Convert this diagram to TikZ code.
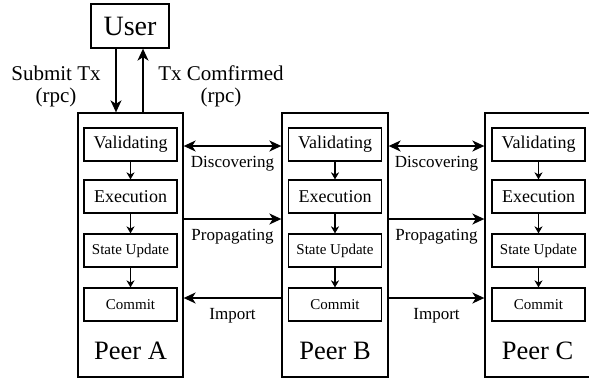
\documentclass[tikz,border=0pt]{standalone}
\usepackage{fontspec}
\setmainfont{Liberation Serif}
\usetikzlibrary{arrows.meta,calc}
\begin{document}
\begin{tikzpicture}[x=1pt,y=-1pt,
  outerbox/.style={draw,line width=1.3pt,minimum width=105pt,minimum height=264pt,inner sep=0pt},
  stagebox/.style={draw,line width=1.2pt,minimum width=93pt,minimum height=33pt,inner sep=0pt},
  bigarrow/.style={line width=1.6pt,-{Stealth[length=12pt,width=11pt,inset=3.5pt]}},
  dblarrow/.style={line width=1.6pt,{Stealth[length=12pt,width=11pt,inset=3.5pt]}-{Stealth[length=12pt,width=11pt,inset=3.5pt]}},
  smallarrow/.style={line width=1.1pt,-{Stealth[length=7pt,width=8pt,inset=2pt]}},
  lbl/.style={inner sep=0pt,font=\fontsize{17}{17}\selectfont},
  rpclbl/.style={inner sep=0pt,align=center,font=\fontsize{21}{22}\selectfont}]
\useasboundingbox (0,0) rectangle (589,381);
% user
\node[draw,line width=1.3pt,minimum width=78pt,minimum height=44pt,inner sep=0pt,font=\fontsize{28}{28}\selectfont] (user) at (130,26) {User};
% peers
\foreach \p/\cx/\w/\name in {A/130.5/105/Peer A,B/335/106/Peer B,C/537.5/105/Peer C}{
  \node[outerbox,minimum width=\w pt] (P\p) at (\cx,245) {};
  \node[inner sep=0pt,font=\fontsize{26.5}{26.5}\selectfont] (L\p) at (\cx,351) {\name};
}
\foreach \p/\cx in {A/130.5,B/335,C/538.5}{
  \node[stagebox,font=\fontsize{18}{18}\selectfont] (V\p) at (\cx,144.5) {Validating};
  \node[stagebox,font=\fontsize{18}{18}\selectfont] (E\p) at (\cx,196.5) {Execution};
  \node[stagebox,font=\fontsize{15}{15}\selectfont] (S\p) at (\cx,250.5) {State Update};
  \node[stagebox,font=\fontsize{15}{15}\selectfont] (C\p) at (\cx,304.5) {Commit};
  \draw[smallarrow] (V\p) -- (E\p);
  \draw[smallarrow] (E\p) -- (S\p);
  \draw[smallarrow] (S\p) -- (C\p);
}
% user arrows
\draw[bigarrow] ([xshift=-14pt]user.south) -- ([xshift=-14pt]user.south |- PA.north);
\draw[bigarrow] ([xshift=13pt]user.south |- PA.north) -- ([xshift=13pt]user.south);
\node[rpclbl] (sub) at (56,86) {Submit Tx\\(rpc)};
\node[rpclbl] (conf) at (221,86) {Tx Comfirmed\\(rpc)};
% peer links
\coordinate (dy) at (0,146);
\coordinate (py) at (0,219);
\coordinate (iy) at (0,298);
\draw[dblarrow] (PA.east |- dy) -- (PB.west |- dy);
\draw[dblarrow] (PB.east |- dy) -- (PC.west |- dy);
\draw[bigarrow] (PA.east |- py) -- (PB.west |- py);
\draw[bigarrow] (PB.east |- py) -- (PC.west |- py);
\draw[bigarrow] (PB.west |- iy) -- (PA.east |- iy);
\draw[bigarrow] (PB.east |- iy) -- (PC.west |- iy);
\node[lbl] (d1) at (232.5,164) {Discovering};
\node[lbl] (d2) at (436.5,164) {Discovering};
\node[lbl] (p1) at (232.5,237) {Propagating};
\node[lbl] (p2) at (436.5,237) {Propagating};
\node[lbl] (i1) at (232.5,316) {Import};
\node[lbl] (i2) at (436.5,316) {Import};
\end{tikzpicture}
\end{document}
